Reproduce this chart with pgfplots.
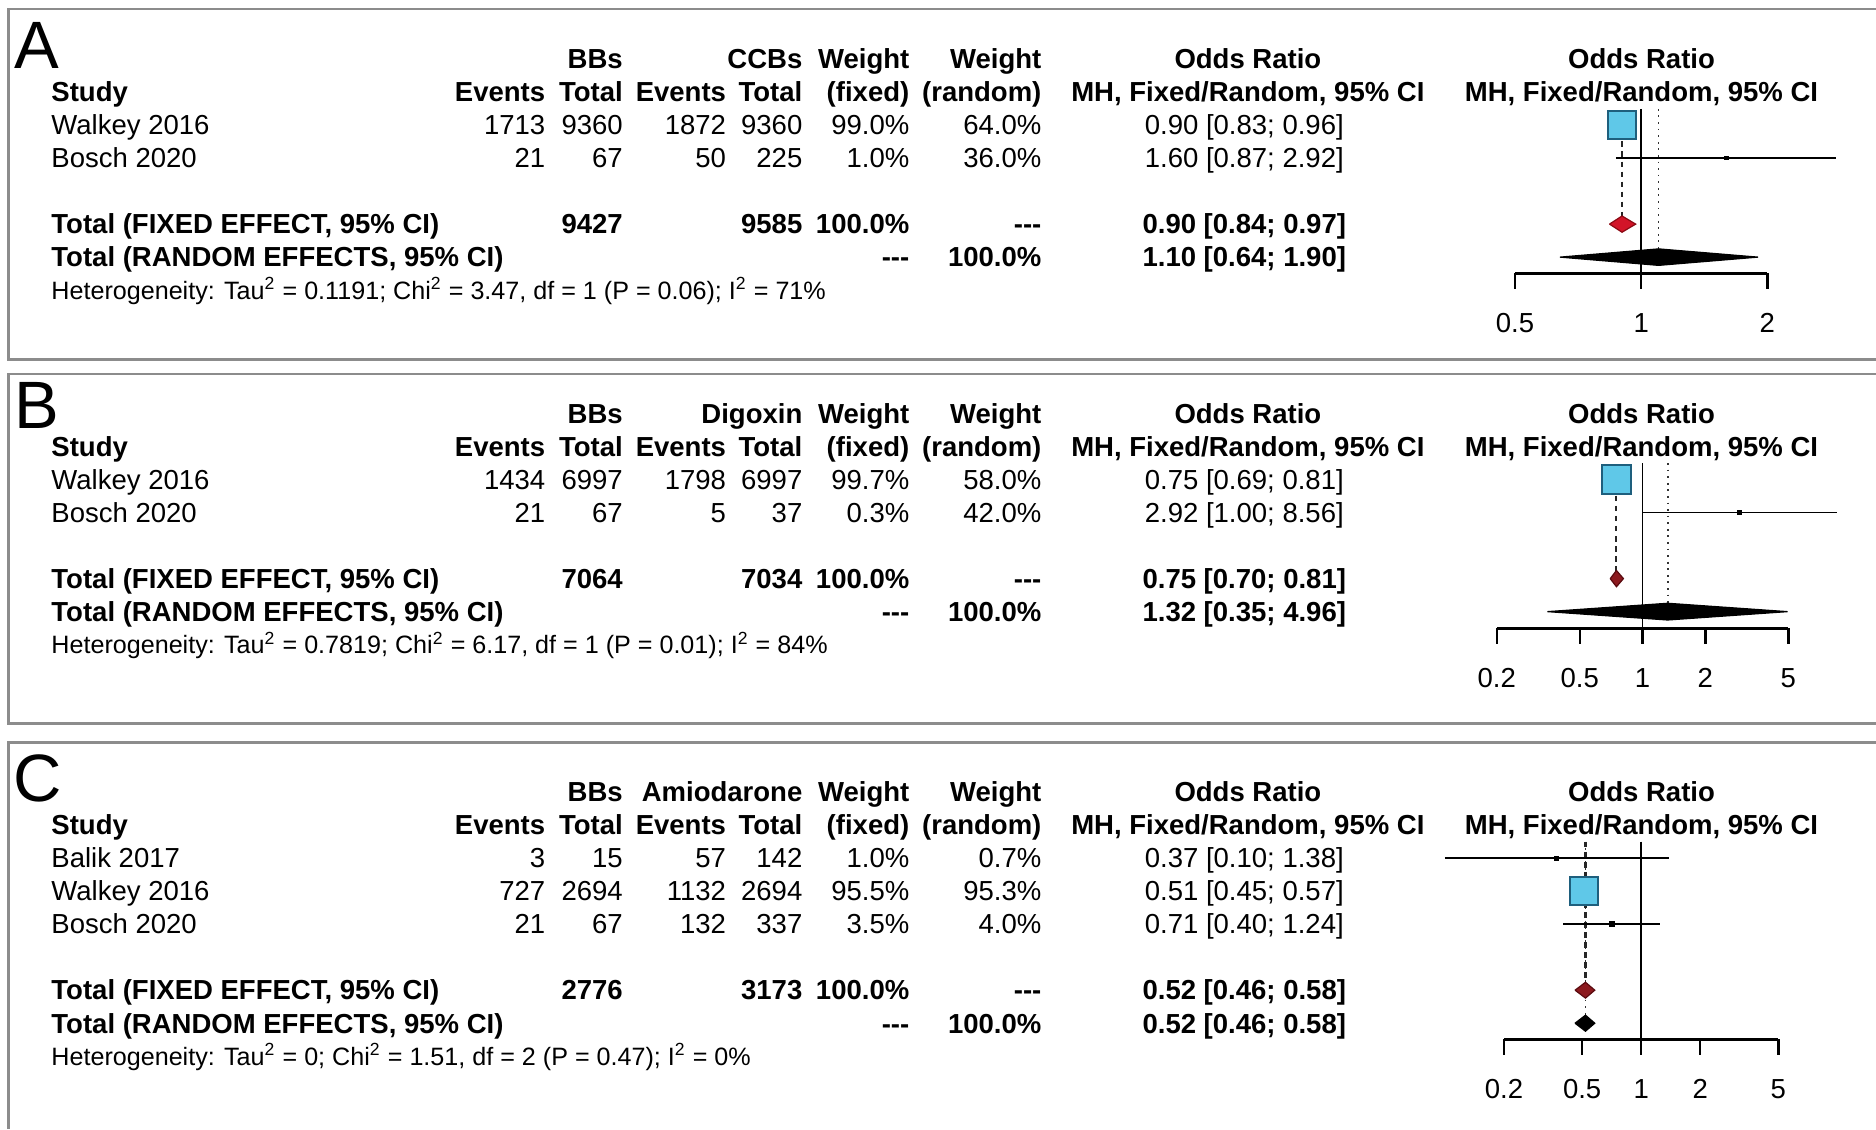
\documentclass[border=0pt]{standalone}
\usepackage{pgfplots}
\pgfplotsset{compat=1.18}
\usepackage{fontspec}
\setmainfont{Liberation Sans}

\definecolor{boxfill}{RGB}{95,200,232}
\definecolor{boxdraw}{RGB}{30,95,125}
\definecolor{redA}{RGB}{210,20,40}
\definecolor{redAd}{RGB}{140,10,20}
\definecolor{redB}{RGB}{140,25,30}
\definecolor{redBd}{RGB}{90,10,15}
\definecolor{panelgray}{RGB}{140,140,140}

% column positions (picture units, 1 unit = 0.5pt)
\newcommand\colS{43}
\newcommand\colEa{455.7}
\newcommand\colTa{520.5}
\newcommand\colEb{606.8}
\newcommand\colTb{670.6}
\newcommand\colWf{760}
\newcommand\colWr{870.4}
\newcommand\colOR{1040}
\newcommand\colORh{1043}
\newcommand\colFP{1372}

\newcommand\ftR[3]{\node[anchor=base east] at (#1,#2) {#3};}
\newcommand\ftL[3]{\node[anchor=base west] at (#1,#2) {#3};}
\newcommand\ftC[3]{\node[anchor=base] at (#1,#2) {#3};}

\newcommand\ftHeader[3]{%
  \ftR{\colTa}{#1}{\textbf{BBs}}
  \ftR{\colTb}{#1}{\textbf{#3}}
  \ftR{\colWf}{#1}{\textbf{Weight}}
  \ftR{\colWr}{#1}{\textbf{Weight}}
  \ftC{\colORh}{#1}{\textbf{Odds Ratio}}
  \ftC{\colFP}{#1}{\textbf{Odds Ratio}}
  \ftL{\colS}{#2}{\textbf{Study}}
  \ftR{\colEa}{#2}{\textbf{Events}}
  \ftR{\colTa}{#2}{\textbf{Total}}
  \ftR{\colEb}{#2}{\textbf{Events}}
  \ftR{\colTb}{#2}{\textbf{Total}}
  \ftR{\colWf}{#2}{\textbf{(fixed)}}
  \ftR{\colWr}{#2}{\textbf{(random)}}
  \ftC{\colORh}{#2}{\textbf{MH, Fixed/Random, 95\% CI}}
  \ftC{\colFP}{#2}{\textbf{MH, Fixed/Random, 95\% CI}}
}
\newcommand\ftStudy[9]{%
  \ftL{\colS}{#1}{#2}\ftR{\colEa}{#1}{#3}\ftR{\colTa}{#1}{#4}\ftR{\colEb}{#1}{#5}%
  \ftR{\colTb}{#1}{#6}\ftR{\colWf}{#1}{#7}\ftR{\colWr}{#1}{#8}\ftC{\colOR}{#1}{#9}}
\newcommand\ftTotals[6]{%
  \ftL{\colS}{#1}{\textbf{Total (FIXED EFFECT, 95\% CI)}}
  \ftR{\colTa}{#1}{\textbf{#3}}\ftR{\colTb}{#1}{\textbf{#4}}
  \ftR{\colWf}{#1}{\textbf{100.0\%}}\ftR{\colWr}{#1}{\textbf{-{}-{}-}}
  \ftC{\colOR}{#1}{\textbf{#5}}
  \ftL{\colS}{#2}{\textbf{Total (RANDOM EFFECTS, 95\% CI)}}
  \ftR{\colWf}{#2}{\textbf{-{}-{}-}}\ftR{\colWr}{#2}{\textbf{100.0\%}}
  \ftC{\colOR}{#2}{\textbf{#6}}}
\newcommand\ftHet[2]{\ftL{\colS}{#1}{\fontsize{10.5}{12}\selectfont #2}}

\pgfplotsset{
  fplot/.style={
    scale only axis, clip=false, enlargelimits=false,
    anchor=south west,
    axis x line*=bottom, axis y line=none,
    ytick=\empty,
    tick align=outside, major tick length=6.5pt,
    every tick/.style={black, line width=1pt},
    x axis line style={line width=1pt},
    xticklabel style={font=\fontsize{11.5}{13}\selectfont, yshift=-6.8pt},
  },
  refline/.style={black, line width=0.8pt},
  randline/.style={black!80, dotted, line width=0.75pt},
  fixline/.style={black!85, dash pattern=on 2.4pt off 1.8pt, line width=0.85pt},
  ciline/.style={black, line width=0.75pt},
  bigbox/.style={only marks, mark=square*, mark options={fill=boxfill, draw=boxdraw, line width=0.9pt}},
  dot/.style={only marks, mark=square*, mark options={fill=black, draw=black}},
}

\begin{document}
\begin{tikzpicture}
\useasboundingbox (0,0) rectangle (784pt,-472pt);
\begin{scope}[x=0.5pt, y=-0.5pt, every node/.style={inner sep=0pt, outer sep=0pt},
  font=\fontsize{11.5}{13.8}\selectfont]
  % panel frames
  \draw[panelgray, line width=1.1pt] (1568,7.5) -- (7,7.5) -- (7,300.4) -- (1568,300.4);
  \draw[panelgray, line width=1.1pt] (1568,312.6) -- (7,312.6) -- (7,604.5) -- (1568,604.5);
  \draw[panelgray, line width=1.1pt] (1568,620.8) -- (7,620.8) -- (7,944);
  % panel letters
  \node[anchor=base west, font=\fontsize{28}{30}\selectfont] at (12,57) {A};
  \node[anchor=base west, font=\fontsize{28}{30}\selectfont] at (12,358) {B};
  \node[anchor=base west, font=\fontsize{28}{30}\selectfont] at (11,669.5) {C};

  % ---------- Panel A ----------
  \ftHeader{57.5}{85.1}{CCBs}
  \ftStudy{112.7}{Walkey 2016}{1713}{9360}{1872}{9360}{99.0\%}{64.0\%}{0.90 [0.83; 0.96]}
  \ftStudy{140.3}{Bosch 2020}{21}{67}{50}{225}{1.0\%}{36.0\%}{1.60 [0.87; 2.92]}
  \ftTotals{195.5}{223.1}{9427}{9585}{0.90 [0.84; 0.97]}{1.10 [0.64; 1.90]}
  \ftHet{250}{Heterogeneity: Tau\textsuperscript{2} = 0.1191; Chi\textsuperscript{2} = 3.47, df = 1 (P = 0.06); I\textsuperscript{2} = 71\%}

  % ---------- Panel B ----------
  \ftHeader{353.8}{381.4}{Digoxin}
  \ftStudy{409}{Walkey 2016}{1434}{6997}{1798}{6997}{99.7\%}{58.0\%}{0.75 [0.69; 0.81]}
  \ftStudy{436.6}{Bosch 2020}{21}{67}{5}{37}{0.3\%}{42.0\%}{2.92 [1.00; 8.56]}
  \ftTotals{491.8}{519.4}{7064}{7034}{0.75 [0.70; 0.81]}{1.32 [0.35; 4.96]}
  \ftHet{546.3}{Heterogeneity: Tau\textsuperscript{2} = 0.7819; Chi\textsuperscript{2} = 6.17, df = 1 (P = 0.01); I\textsuperscript{2} = 84\%}

  % ---------- Panel C ----------
  \ftHeader{670.2}{697.8}{Amiodarone}
  \ftStudy{725.4}{Balik 2017}{3}{15}{57}{142}{1.0\%}{0.7\%}{0.37 [0.10; 1.38]}
  \ftStudy{753}{Walkey 2016}{727}{2694}{1132}{2694}{95.5\%}{95.3\%}{0.51 [0.45; 0.57]}
  \ftStudy{780.6}{Bosch 2020}{21}{67}{132}{337}{3.5\%}{4.0\%}{0.71 [0.40; 1.24]}
  \ftTotals{835.8}{863.4}{2776}{3173}{0.52 [0.46; 0.58]}{0.52 [0.46; 0.58]}
  \ftHet{890.3}{Heterogeneity: Tau\textsuperscript{2} = 0; Chi\textsuperscript{2} = 1.51, df = 2 (P = 0.47); I\textsuperscript{2} = 0\%}
\end{scope}

% ---------- Forest A ----------
\begin{axis}[xmode=log, fplot, at={(633.15pt,-114.25pt)}, width=105.45pt, height=71.75pt,
  xmin=0.5, xmax=2, ymin=-228.5, ymax=-85,
  xtick={0.5,1,2}, xticklabels={0.5,1,2}]
  \addplot[refline] coordinates {(1,-91) (1,-228.5)};
  \addplot[randline] coordinates {(1.10,-91) (1.10,-208)};
  \addplot[fixline] coordinates {(0.90,-93) (0.90,-181)};
  \addplot[bigbox, mark size=5.75pt] coordinates {(0.90,-104.5)};
  \addplot[dot, mark size=0.8pt] coordinates {(1.60,-132.1)};
  \addplot[ciline] coordinates {(0.83,-104.5) (0.96,-104.5)};
  \addplot[ciline] coordinates {(0.87,-132.1) (2.92,-132.1)};
  \addplot[fill=redA, draw=redAd, line width=0.5pt] coordinates {(0.84,-187.3) (0.90,-180.5) (0.97,-187.3) (0.90,-194.1) (0.84,-187.3)};
  \addplot[fill=black, draw=black, line width=0.5pt] coordinates {(0.64,-214.9) (1.10,-208) (1.90,-214.9) (1.10,-221.8) (0.64,-214.9)};
\end{axis}

% ---------- Forest B ----------
\begin{axis}[xmode=log, fplot, at={(625.5pt,-262.6pt)}, width=121.85pt, height=72.6pt,
  xmin=0.2, xmax=5, ymin=-525.2, ymax=-380,
  xtick={0.2,0.5,1,2,5}, xticklabels={0.2,0.5,1,2,5}]
  \addplot[refline] coordinates {(1,-387) (1,-525.2)};
  \addplot[randline] coordinates {(1.32,-387) (1.32,-504.2)};
  \addplot[fixline] coordinates {(0.75,-389) (0.75,-477.3)};
  \addplot[bigbox, mark size=6pt] coordinates {(0.75,-400.8)};
  \addplot[dot, mark size=0.7pt] coordinates {(2.92,-428.4)};
  \addplot[ciline] coordinates {(0.69,-400.8) (0.81,-400.8)};
  \addplot[ciline] coordinates {(1.00,-428.4) (8.56,-428.4)};
  \addplot[fill=redB, draw=redBd, line width=0.5pt] coordinates {(0.70,-483.6) (0.75,-476.8) (0.81,-483.6) (0.75,-490.4) (0.70,-483.6)};
  \addplot[fill=black, draw=black, line width=0.5pt] coordinates {(0.35,-511.2) (1.32,-504.2) (4.96,-511.2) (1.32,-518.2) (0.35,-511.2)};
\end{axis}

% ---------- Forest C ----------
\begin{axis}[xmode=log, fplot, at={(628.55pt,-434.35pt)}, width=114.65pt, height=85.35pt,
  xmin=0.2, xmax=5, ymin=-868.7, ymax=-698,
  xtick={0.2,0.5,1,2,5}, xticklabels={0.2,0.5,1,2,5}]
  \addplot[refline] coordinates {(1,-703.5) (1,-868.7)};
  \addplot[randline] coordinates {(0.52,-703.5) (0.52,-848.5)};
  \addplot[fixline] coordinates {(0.52,-703.5) (0.52,-821)};
  \addplot[dot, mark size=0.8pt] coordinates {(0.37,-717.2)};
  \addplot[bigbox, mark size=5.75pt] coordinates {(0.51,-744.8)};
  \addplot[dot, mark size=1.1pt] coordinates {(0.71,-772.4)};
  \addplot[ciline] coordinates {(0.10,-717.2) (1.38,-717.2)};
  \addplot[ciline] coordinates {(0.45,-744.8) (0.57,-744.8)};
  \addplot[ciline] coordinates {(0.40,-772.4) (1.24,-772.4)};
  \addplot[fill=redB, draw=redBd, line width=0.5pt] coordinates {(0.46,-827.6) (0.52,-821) (0.58,-827.6) (0.52,-834.2) (0.46,-827.6)};
  \addplot[fill=black, draw=black, line width=0.5pt] coordinates {(0.46,-855.2) (0.52,-848.5) (0.58,-855.2) (0.52,-861.9) (0.46,-855.2)};
\end{axis}
\end{tikzpicture}
\end{document}
